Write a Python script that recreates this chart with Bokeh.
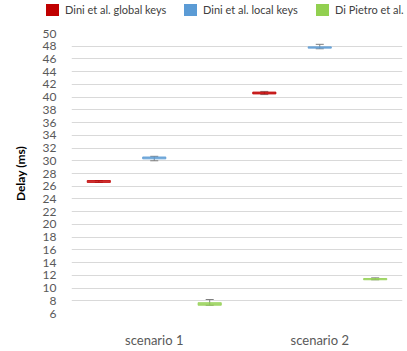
from bokeh.plotting import figure
from bokeh.layouts import column
from bokeh.models import (ColumnDataSource, Range1d, FixedTicker, Div,
                          Whisker, TeeHead)
from bokeh.embed import file_html
from bokeh.resources import INLINE

# Delay (ms) per scenario, for each key scheme
scenarios = ["scenario 1", "scenario 2"]
series = ["Dini et al. global keys", "Dini et al. local keys", "Di Pietro et al."]
colors = ["#C00000", "#5B9BD5", "#92D050"]

box_low = {
    "Dini et al. global keys": [26.6, 40.5],
    "Dini et al. local keys": [30.3, 47.7],
    "Di Pietro et al.": [7.3, 11.3],
}
box_high = {
    "Dini et al. global keys": [26.9, 40.8],
    "Dini et al. local keys": [30.6, 47.9],
    "Di Pietro et al.": [7.7, 11.5],
}
whisker_low = {
    "Dini et al. global keys": [26.6, 40.4],
    "Dini et al. local keys": [30.0, 47.6],
    "Di Pietro et al.": [7.3, 11.3],
}
whisker_high = {
    "Dini et al. global keys": [26.9, 40.9],
    "Dini et al. local keys": [30.7, 48.3],
    "Di Pietro et al.": [8.2, 11.6],
}

y_ticks = list(range(6, 51, 2))

FONT = "Lato"
TEXT = "#595959"

p = figure(width=407, height=331, output_backend="svg", toolbar_location=None,
           x_range=Range1d(0, 2), y_range=Range1d(6, 50),
           min_border_left=71, min_border_right=5, min_border_top=13, min_border_bottom=38)
p.outline_line_color = None
p.background_fill_color = "white"
p.border_fill_color = "white"

p.xgrid.visible = False
p.ygrid.grid_line_color = "#D9D9D9"
p.ygrid.grid_line_width = 1
p.yaxis.ticker = FixedTicker(ticks=y_ticks)
p.xaxis.ticker = FixedTicker(ticks=[0.5, 1.5])
p.xaxis.major_label_overrides = {0.5: scenarios[0], 1.5: scenarios[1]}

for ax in (p.xaxis, p.yaxis):
    ax.axis_line_color = None
    ax.major_tick_line_color = None
    ax.minor_tick_line_color = None
    ax.major_label_text_font = FONT
    ax.major_label_text_color = TEXT
p.yaxis.major_label_text_font_size = "12px"
p.yaxis.major_label_standoff = 9
p.xaxis.major_label_text_font_size = "13px"
p.xaxis.major_label_standoff = 12
p.yaxis.axis_label = "Delay (ms)"
p.yaxis.axis_label_text_font = FONT
p.yaxis.axis_label_text_font_style = "bold"
p.yaxis.axis_label_text_font_size = "12px"
p.yaxis.axis_label_text_color = "#000000"
p.yaxis.axis_label_standoff = 12

offsets = [-0.335, 0.0, 0.335]
for s, c, off in zip(series, colors, offsets):
    xs = [i + 0.5 + off for i in range(len(scenarios))]
    src = ColumnDataSource(dict(x=xs, bottom=box_low[s], top=box_high[s],
                                lo=whisker_low[s], hi=whisker_high[s]))
    p.vbar(x="x", bottom="bottom", top="top", width=0.14, source=src,
           fill_color=c, line_color=c, line_width=1, fill_alpha=0.8, line_alpha=0.8)
    w = Whisker(base="x", lower="lo", upper="hi", source=src,
                line_color="#7F7F7F", line_width=1,
                upper_head=TeeHead(size=8, line_color="#7F7F7F", line_width=1),
                lower_head=TeeHead(size=8, line_color="#7F7F7F", line_width=1))
    p.add_layout(w)

# Legend strip above the chart
legend_left = [46, 184, 316]
parts = []
for s, c, left in zip(series, colors, legend_left):
    parts.append(
        f"<div style='position:absolute;left:{left}px;top:3px;white-space:nowrap;"
        f"font-family:Lato;font-size:11px;color:#404040;line-height:14px'>"
        f"<span style='display:inline-block;width:13px;height:12px;background:{c};"
        f"vertical-align:-2px;margin-right:6px'></span>{s}</div>"
    )
legend = Div(text="<div style='position:relative;width:407px;height:20px;overflow:hidden'>"
             + "".join(parts) + "</div>",
             width=407, height=20, styles={"margin": "0", "padding": "0", "overflow": "hidden"})

open("out.html", "w").write(file_html(column(legend, p, spacing=0), INLINE))
